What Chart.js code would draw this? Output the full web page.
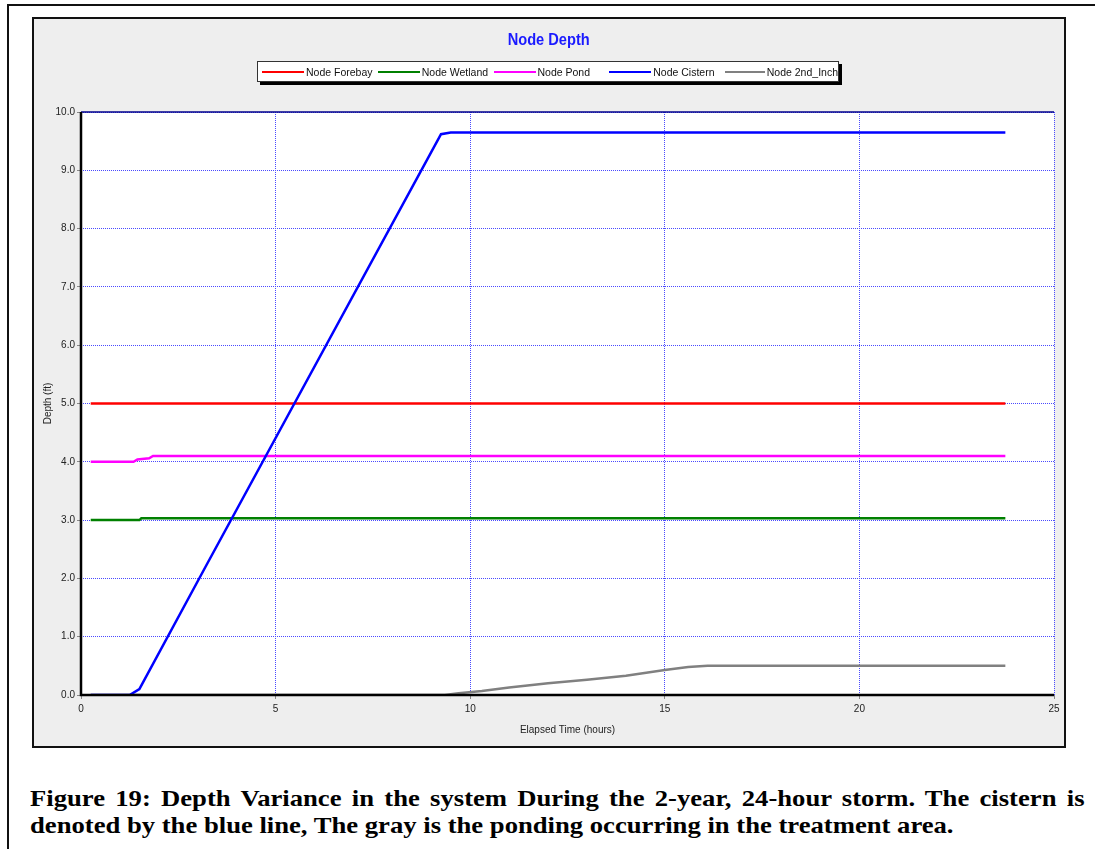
<!DOCTYPE html>
<html>
<head>
<meta charset="utf-8">
<script src="https://cdn.jsdelivr.net/npm/chart.js@4.4.1/dist/chart.umd.min.js"></script>
<style>
body{margin:0;width:1095px;height:849px;background:#fff;position:relative;overflow:hidden}
.frame{position:absolute;left:7px;top:4px;width:1200px;height:1000px;border-top:2px solid #111;border-left:2px solid #111}
.box{position:absolute;left:32px;top:17px;width:1030px;height:727px;background:#eeeeee;border:2px solid #111}
.box canvas{position:absolute;left:0;top:0}
.title{position:absolute;left:0;width:1030px;top:11px;text-align:center;color:#1a1aff;font:bold 17px 'Liberation Sans',sans-serif}
.title span{display:inline-block;transform:scaleX(0.86)}
.legend{position:absolute;left:223px;top:42px;width:580px;height:19px;background:#fff;border:1px solid #333;box-shadow:3px 3px 0 #000;display:flex;align-items:center}
.legend .it{width:113px;display:flex;align-items:center;padding-left:4px;font:10.5px 'Liberation Sans',sans-serif;color:#111;white-space:nowrap}
.legend .ln{display:inline-block;width:42px;height:2px;margin-right:2px}
.cap{position:absolute;left:30px;font:bold 24px/28px 'Liberation Serif','Times New Roman',serif;color:#000;transform:scaleX(1.11);transform-origin:left top;white-space:nowrap}
.cap1{top:784px;width:950px;text-align:justify;text-align-last:justify}
.cap2{top:811px}
</style>
</head>
<body>
<div class="frame"></div>
<div class="box">
  <canvas id="c" width="1030" height="727"></canvas>
  <div class="title"><span>Node Depth</span></div>
  <div class="legend" id="lg"></div>
</div>
<div class="cap cap1">Figure 19: Depth Variance in the system During the 2-year, 24-hour storm. The cistern is</div>
<div class="cap cap2">denoted by the blue line, The gray is the ponding occurring in the treatment area.</div>
<script>
// series names / colours
const names = ["Node Forebay", "Node Wetland", "Node Pond", "Node Cistern", "Node 2nd_Inch"];
const colors = ["#ff0000", "#008000", "#ff00ff", "#0000ff", "#808080"];

// elapsed time (hours) and depth (ft) for each node
const forebayT = [0.25, 23.75];
const forebayD = [5.0, 5.0];
const wetlandT = [0.25, 1.5, 1.55, 23.75];
const wetlandD = [3.0, 3.0, 3.03, 3.03];
const pondT = [0.25, 1.35, 1.45, 1.75, 1.85, 23.75];
const pondD = [4.0, 4.0, 4.04, 4.06, 4.1, 4.1];
const cisternT = [0.25, 1.25, 1.5, 3.2, 9.25, 9.5, 23.75];
const cisternD = [0, 0, 0.1, 2.2, 9.62, 9.65, 9.65];
const inchT = [0.25, 9.35, 9.7, 10.3, 11, 12, 13, 14, 15, 15.6, 16.1, 23.75];
const inchD = [0, 0, 0.03, 0.07, 0.13, 0.2, 0.26, 0.33, 0.43, 0.48, 0.5, 0.5];

const xTicks = [0, 5, 10, 15, 20, 25];
const yTicks = [0, 1, 2, 3, 4, 5, 6, 7, 8, 9, 10];

const times = [forebayT, wetlandT, pondT, cisternT, inchT];
const depths = [forebayD, wetlandD, pondD, cisternD, inchD];

// html legend
names.forEach(function(n, i){
  const lg = document.getElementById("lg");
  lg.insertAdjacentHTML("beforeend",
    '<div class="it"><span class="ln" style="background:' + colors[i] + '"></span>' + n + '</div>');
});

const fnt = "'Liberation Sans',sans-serif";

const frame = {
  id: "frame",
  beforeDraw(c){
    const a = c.chartArea, x = c.ctx;
    x.save();
    x.fillStyle = "#fff";
    x.fillRect(a.left, a.top, a.right - a.left, a.bottom - a.top);
    x.restore();
  },
  afterDatasetsDraw(c){
    const a = c.chartArea, x = c.ctx;
    x.save();
    x.strokeStyle = "#00008b"; x.lineWidth = 1.5;
    x.beginPath(); x.moveTo(a.left, a.top); x.lineTo(a.right, a.top); x.stroke();
    x.strokeStyle = "#000"; x.lineWidth = 2.5;
    x.beginPath(); x.moveTo(a.left, a.top); x.lineTo(a.left, a.bottom); x.lineTo(a.right, a.bottom); x.stroke();
    x.restore();
  }
};

new Chart(document.getElementById("c"), {
  type: "line",
  data: {
    datasets: names.map(function(n, i){
      return {
        label: n,
        data: times[i].map(function(t, j){ return {x: t, y: depths[i][j]}; }),
        borderColor: colors[i],
        borderWidth: 2.5,
        pointRadius: 0,
        tension: 0,
        order: i == 3 ? 0 : 1
      };
    })
  },
  options: {
    responsive: false,
    animation: false,
    layout: { padding: { top: 93, right: 10, left: 0, bottom: 0 } },
    plugins: { legend: { display: false }, tooltip: { enabled: false } },
    scales: {
      x: {
        type: "linear", min: 0, max: 25,
        afterBuildTicks: function(s){ s.ticks = xTicks.map(function(v){ return {value: v}; }); },
        afterFit: function(s){ s.height = 51; },
        ticks: { color: "#222", font: { family: fnt, size: 10 }, padding: 4 },
        grid: { color: "#4a4aff", tickColor: "#888", tickLength: 4, lineWidth: 1 },
        border: { display: false, dash: [1, 1] },
        title: { display: true, text: "Elapsed Time (hours)", color: "#222", font: { family: fnt, size: 10 }, padding: { top: 0, bottom: 10 } }
      },
      y: {
        min: 0, max: 10,
        afterBuildTicks: function(s){ s.ticks = yTicks.map(function(v){ return {value: v}; }); },
        afterFit: function(s){ s.width = 47; },
        ticks: { color: "#222", font: { family: fnt, size: 10 }, padding: 2, callback: function(v){ return v.toFixed(1); } },
        grid: { color: "#4a4aff", tickColor: "#888", tickLength: 4, lineWidth: 1 },
        border: { display: false, dash: [1, 1] },
        title: { display: true, text: "Depth (ft)", color: "#222", font: { family: fnt, size: 10 }, padding: { top: 8, bottom: 0 } }
      }
    }
  },
  plugins: [frame]
});
</script>
</body>
</html>
